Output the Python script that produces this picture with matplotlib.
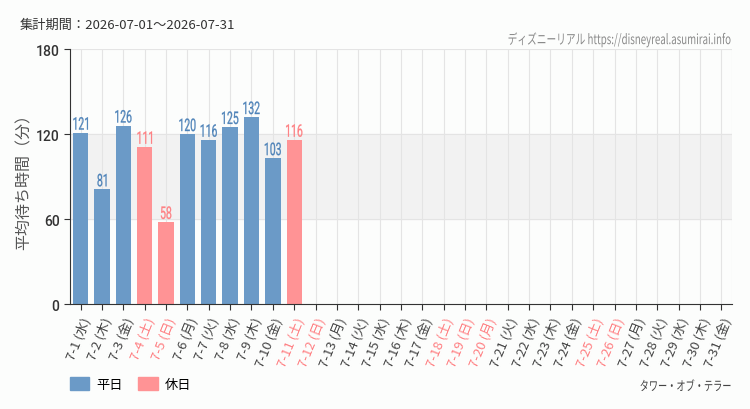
import matplotlib
matplotlib.use('Agg')
import matplotlib.pyplot as plt
from matplotlib.patches import Patch, PathPatch
from matplotlib.textpath import TextPath
from matplotlib.font_manager import FontProperties
from matplotlib.transforms import Affine2D, ScaledTranslation
import numpy as np

plt.rcParams['font.family'] = ['Noto Sans CJK JP', 'DejaVu Sans']

days = [f'7-{d}' for d in range(1, 32)]
weekdays = (['水', '木', '金', '土', '日', '月', '火'] * 5)[:31]
holidays = ['7-4', '7-5', '7-11', '7-12', '7-18', '7-19', '7-20', '7-25', '7-26']
waits = [121, 81, 126, 111, 58, 120, 116, 125, 132, 103, 116]

blue = '#6b9ac7'
pink = '#ff9395'
blue_txt = '#4d82b8'
pink_txt = '#ff7f82'
bg = '#fcfdfc'

fig = plt.figure(figsize=(7.5, 4.1), dpi=100, facecolor=bg)
ax = fig.add_axes([0.0933, 0.256, 0.8827, 0.622])
ax.set_facecolor(bg)


def narrow_text(x, y, s, size, color, trans, sx=None, width=None, ha='center',
                family='Roboto', weight='normal', dy=0, stroke=0):
    # condensed text drawn as a path (no narrow font installed)
    tp = TextPath((0, 0), s, size=size, prop=FontProperties(family=family, weight=weight))
    bb = tp.get_extents()
    k = fig.dpi / 72
    if width is not None:
        sx = width / (bb.width * k)
    if ha == 'center':
        dx = -(bb.x0 + bb.width / 2)
    elif ha == 'right':
        dx = -bb.x1
    else:
        dx = -bb.x0
    tr = (Affine2D().translate(dx, 0).scale(sx * k, k).translate(0, dy)
          + ScaledTranslation(x, y, trans))
    p = PathPatch(tp, transform=tr, facecolor=color, edgecolor=color, lw=stroke,
                  clip_on=False, zorder=3)
    fig.add_artist(p)


x = np.arange(len(days))
ax.axhspan(60, 120, color='#f2f2f2', zorder=0)
for yy in [60, 120, 180]:
    ax.axhline(yy, color='#e4e4e4', lw=0.8, zorder=0.5)
for xi in x:
    ax.axvline(xi, color='#e4e4e4', lw=0.8, zorder=0.5)
ax.axvline(len(days) - 0.5, color='#e4e4e4', lw=0.8, zorder=0.5)

ax.set_xlim(-0.5, len(days) - 0.5)
ax.set_ylim(0, 180)

for i, v in enumerate(waits):
    hol = days[i] in holidays
    ax.bar(i, v, width=0.72, color=pink if hol else blue, zorder=2)

ax.set_yticks([0, 60, 120, 180])
ax.set_yticklabels(['0', '60', '120', '180'], fontsize=10, color='#333333',
                   family=['Roboto', 'DejaVu Sans'], fontweight='medium')
ax.set_xticks(x)
ax.set_xticklabels([f'{d} ({w})' for d, w in zip(days, weekdays)],
                   rotation=68, ha='right', va='top', fontsize=9.5,
                   rotation_mode='anchor')
for lbl, d in zip(ax.get_xticklabels(), days):
    lbl.set_color(pink_txt if d in holidays else '#444444')
ax.tick_params(axis='x', length=4, color='#333333', pad=4)
ax.tick_params(axis='y', length=4, color='#333333')
for s in ['top', 'right']:
    ax.spines[s].set_visible(False)
ax.spines['left'].set_color('#333333')
ax.spines['bottom'].set_color('#333333')
ax.set_ylabel('平均待ち時間（分）', fontsize=11.5, color='#555555')
ax.yaxis.set_label_coords(-0.056, 0.5)

fig.canvas.draw()
for i, v in enumerate(waits):
    hol = days[i] in holidays
    narrow_text(i, v, str(v), 12.5, pink_txt if hol else blue_txt, ax.transData,
                sx=0.6, dy=3, stroke=0.2)

fig.text(0.026, 0.937, '集計期間：2026-07-01～2026-07-31', fontsize=9.5, color='#333333', va='center')
narrow_text(0.974, 0.89, 'ディズニーリアル https://disneyreal.asumirai.info', 10, '#8a8a8a',
            fig.transFigure, width=222, ha='right', family='Noto Sans CJK JP')
narrow_text(0.974, 0.045, 'タワー・オブ・テラー', 9.5, '#444444',
            fig.transFigure, width=90, ha='right', family='Noto Sans CJK JP')

fig.legend(handles=[Patch(color=blue, label='平日'), Patch(color=pink, label='休日')],
           loc='center left', bbox_to_anchor=(0.077, 0.06), ncol=2, frameon=False,
           fontsize=9.5, handlelength=1.5, handleheight=1.1, columnspacing=1.2,
           handletextpad=0.5)

fig.savefig('out.png', dpi=100, facecolor=fig.get_facecolor())
